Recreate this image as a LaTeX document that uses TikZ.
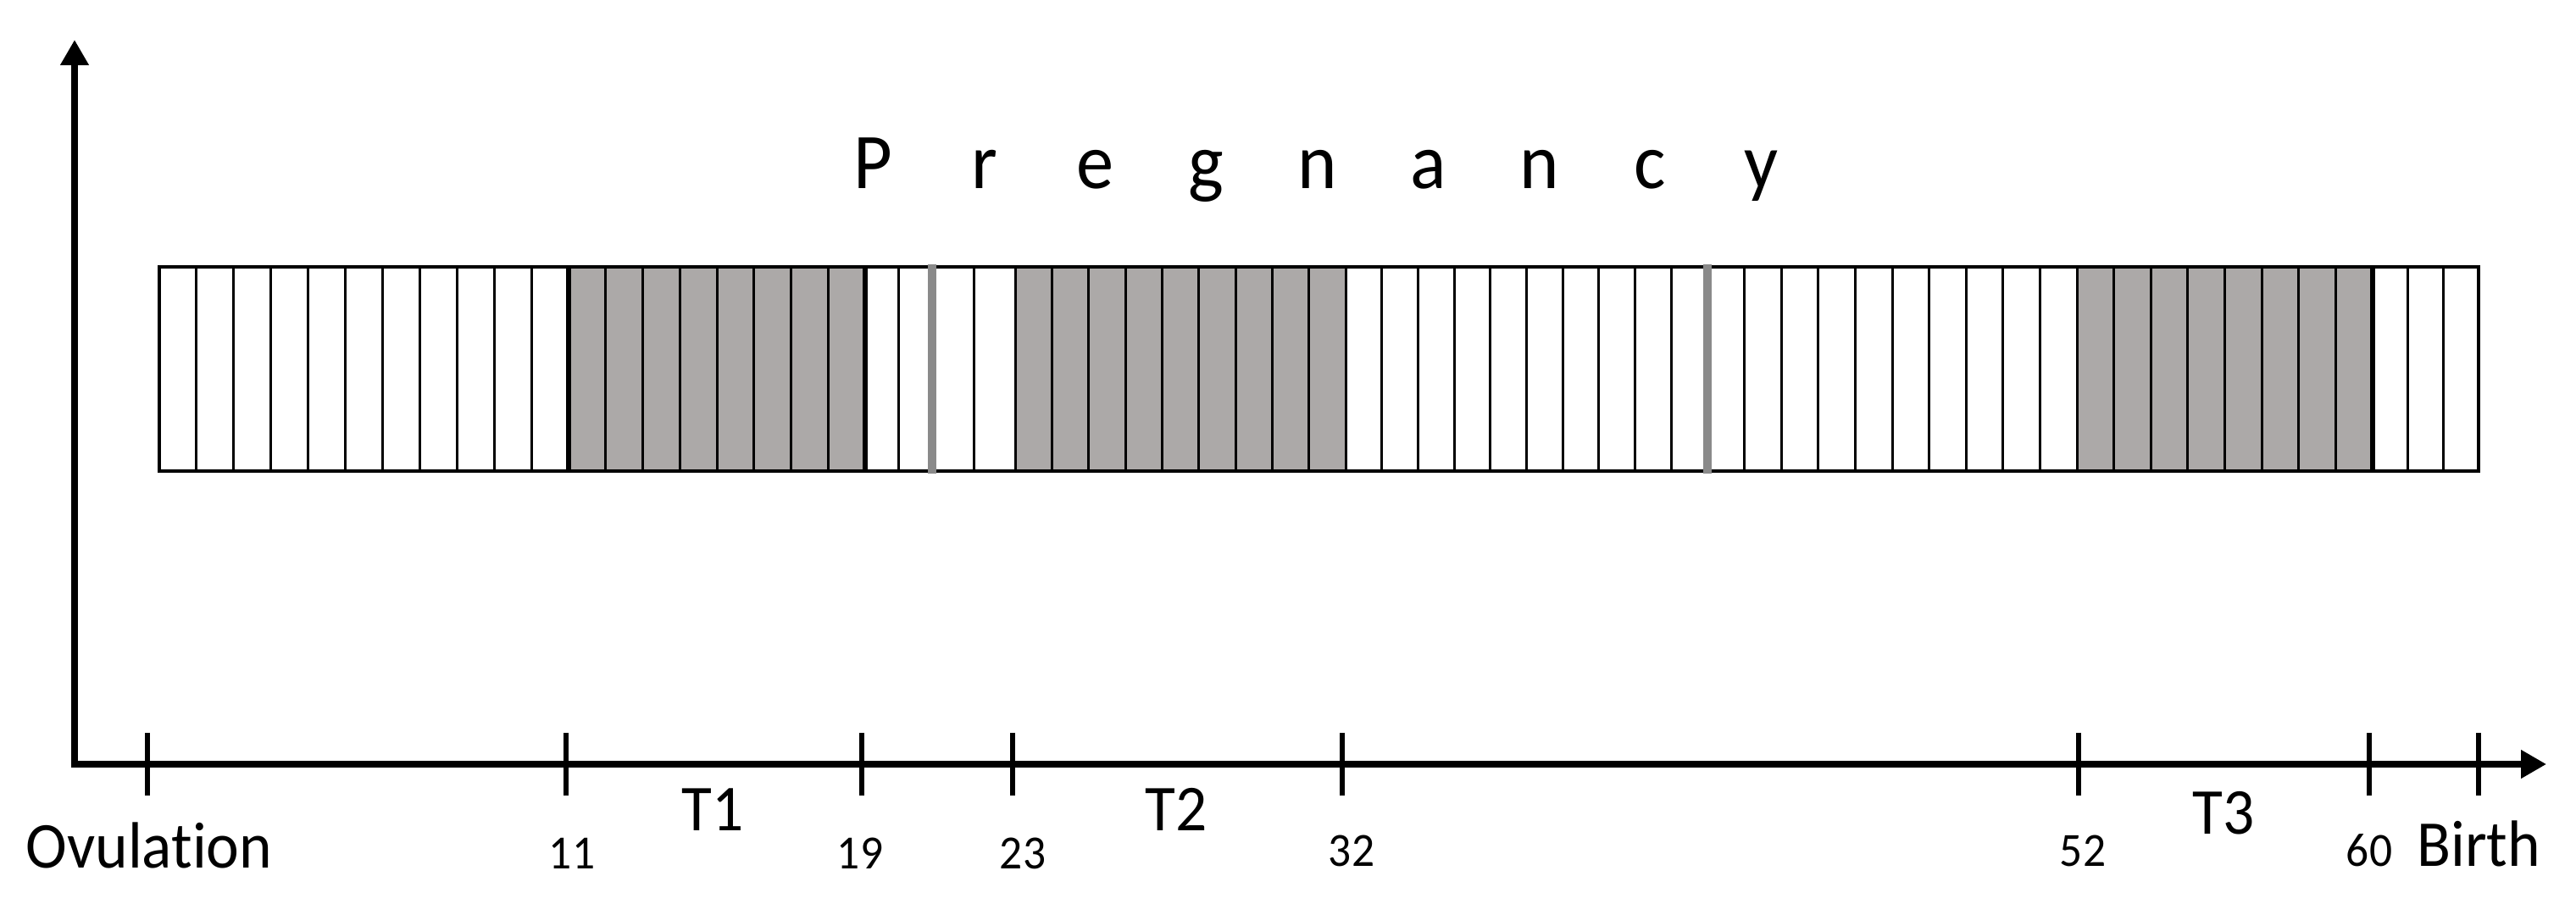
\documentclass[tikz,border=0pt]{standalone}
\usepackage{fontspec}
\setmainfont{Carlito}[Ligatures=NoCommon,FakeStretch=0.95]
\usetikzlibrary{arrows.meta}
\definecolor{cellgrey}{RGB}{172,169,168}
\definecolor{markgrey}{RGB}{138,138,138}
\begin{document}
\begin{tikzpicture}[
  axisline/.style={line width=2.1pt,line join=miter,{Triangle[length=0.3cm,width=0.32cm]}-{Triangle[length=0.3cm,width=0.32cm]}},
  tickline/.style={line width=1.5pt},
  cellline/.style={line width=0.85pt},
  boldline/.style={line width=1.9pt},
  greyline/.style={line width=3pt,draw=markgrey},
  barframe/.style={line width=1.2pt},
  lbl/.style={font=\fontsize{22}{26}\selectfont,anchor=base,inner sep=0pt},
  num/.style={font=\fontsize{16}{19}\selectfont,anchor=base,inner sep=0pt},
  title/.style={font=\fontsize{26.5}{30}\selectfont,anchor=base,inner sep=0pt}
]
\useasboundingbox (0,0) rectangle (30.40,10.80);
% bar geometry
\def\yb{5.24}
\def\yt{7.65}
% grey filled periods
\fill[cellgrey] (6.71,\yb) rectangle (10.21,\yt);
\fill[cellgrey] (11.98,\yb) rectangle (15.88,\yt);
\fill[cellgrey] (24.51,\yb) rectangle (28.00,\yt);
% cell lines
\foreach \a/\b/\n in {1.88/6.71/11, 6.71/10.21/8, 10.21/11.00/2, 11.00/11.98/2, 11.98/15.88/9, 15.88/20.15/10, 20.15/24.51/10, 24.51/28.00/8, 28.00/29.25/3}{
  \foreach \i in {1,...,\n}{
    \pgfmathsetmacro\xx{\a+(\b-\a)*\i/\n}
    \draw[cellline] (\xx,\yb) -- (\xx,\yt);
  }
}
% frame
\draw[barframe] (1.88,\yb) rectangle (29.25,\yt);
% bold boundaries
\foreach \xx in {6.71,10.21,28.00}{
  \draw[boldline] (\xx,\yb) -- (\xx,\yt);
}
% grey marker lines
\foreach \xx in {11.00,20.15}{
  \draw[greyline] (\xx,\yb-0.03) -- (\xx,\yt+0.03);
}
% title
\node[title] (preg) at (15.545,8.57) {\makebox[1.31cm]{P}\makebox[1.31cm]{r}\makebox[1.31cm]{e}\makebox[1.31cm]{g}\makebox[1.31cm]{n}\makebox[1.31cm]{a}\makebox[1.31cm]{n}\makebox[1.31cm]{c}\makebox[1.31cm]{y}};
% axes
\coordinate (origin) at (0.88,1.78);
\coordinate (ytip) at (0.88,10.33);
\coordinate (xtip) at (30.05,1.78);
\draw[axisline] (ytip) -- (origin) -- (xtip);
% ticks
\foreach \nm/\xx in {tov/1.74, t11/6.68, t19/10.17, t23/11.95, t32/15.84, t52/24.53, t60/27.96, tbirth/29.25}{
  \coordinate (\nm) at (\xx,1.78);
  \draw[tickline] ([yshift=0.37cm]\nm) -- ([yshift=-0.37cm]\nm);
}
% labels
\node[lbl] (ovul) at (1.76,0.55) {Ovulation};
\node[lbl] (birth) at (29.25,0.57) {Birth};
\node[lbl] (T1) at (8.41,0.99) {T1};
\node[lbl] (T2) at (13.88,0.99) {T2};
\node[lbl] (T3) at (26.24,0.95) {T3};
\node[num] (n11) at (6.75,0.54) {11};
\node[num] (n19) at (10.15,0.54) {19};
\node[num] (n23) at (12.07,0.54) {23};
\node[num] (n32) at (15.95,0.57) {32};
\node[num] (n52) at (24.58,0.57) {52};
\node[num] (n60) at (27.96,0.57) {60};
\end{tikzpicture}
\end{document}
